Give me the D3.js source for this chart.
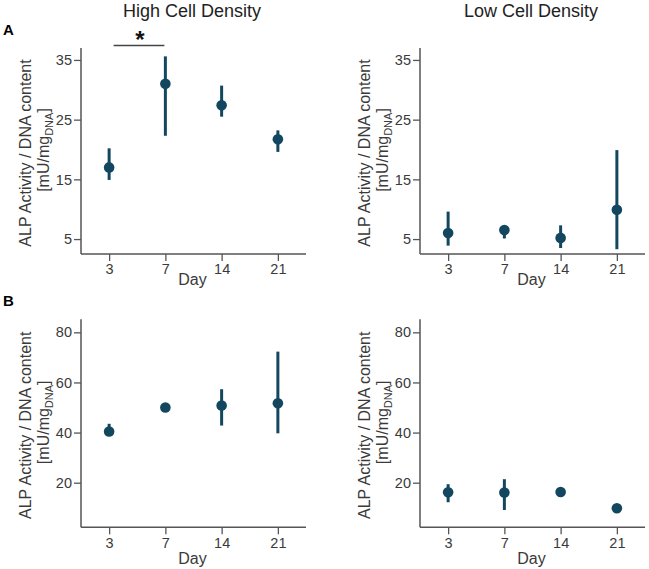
<!DOCTYPE html>
<html>
<head>
<meta charset="utf-8">
<script src="https://cdn.jsdelivr.net/npm/d3@7"></script>
<style>
  html, body { margin: 0; padding: 0; background: #fff; }
  svg { display: block; font-family: Arial, "Liberation Sans", Helvetica, sans-serif; }
</style>
</head>
<body>
<svg id="chart" width="649" height="569"></svg>
<script>
// ---- data ----
const days = ["3", "7", "14", "21"];
const columnTitles = ["High Cell Density", "Low Cell Density"];
const rowLabels = ["A", "B"];

// Row A (top): ALP activity / DNA content
const aHighMean = [17.0, 31.0, 27.4, 21.7];
const aHighLow  = [14.9, 22.3, 25.5, 19.6];
const aHighHigh = [20.2, 35.6, 30.7, 23.2];

const aLowMean = [6.0, 6.5, 5.2, 9.9];
const aLowLow  = [3.9, 5.1, 3.5, 3.3];
const aLowHigh = [9.6, 7.2, 7.3, 19.9];

// Row B (bottom)
const bHighMean = [40.4, 50.0, 50.8, 51.7];
const bHighLow  = [39.0, 49.0, 42.8, 39.7];
const bHighHigh = [43.5, 51.0, 57.3, 72.3];

const bLowMean = [16.2, 16.1, 16.3, 9.8];
const bLowLow  = [12.2, 9.1, 15.6, 9.1];
const bLowHigh = [19.4, 21.4, 17.0, 10.5];

const aTicks = [5, 15, 25, 35];
const bTicks = [20, 40, 60, 80];
const aDomain = [2.5, 37];
const bDomain = [2.2, 85.2];

// ---- layout ----
const svg = d3.select("#chart");
const dotColor = "#13475f";
const axisColor = "#555";
const textColor = "#3a3a3a";

const colX = [81, 420];
const plotW = 225;
const rows = [
  { top: 48, bottom: 254, domain: aDomain, ticks: aTicks, dayOffset: 31,
    series: [[aHighMean, aHighLow, aHighHigh], [aLowMean, aLowLow, aLowHigh]] },
  { top: 319.3, bottom: 527.3, domain: bDomain, ticks: bTicks, dayOffset: 37,
    series: [[bHighMean, bHighLow, bHighHigh], [bLowMean, bLowLow, bLowHigh]] }
];

rows.forEach((row, ri) => {
  const y = d3.scaleLinear().domain(row.domain).range([row.bottom, row.top]);
  [0, 1].forEach(ci => {
    const x0 = colX[ci];
    const x = d3.scalePoint().domain(days).range([x0, x0 + plotW]).padding(0.5);
    const g = svg.append("g");

    // y axis
    const ya = g.append("g").attr("transform", `translate(${x0},0)`)
      .call(d3.axisLeft(y).tickValues(row.ticks).tickSize(7).tickPadding(2).tickSizeOuter(0));
    ya.select(".domain").attr("stroke", axisColor).attr("stroke-width", 1.5)
      .attr("d", `M0,${row.top}V${row.bottom}`);
    ya.selectAll(".tick line").attr("stroke", axisColor).attr("stroke-width", 1.3);
    ya.selectAll(".tick text").attr("fill", textColor).style("font-size", "14.5px");

    // x axis
    const xa = g.append("g").attr("transform", `translate(0,${row.bottom})`)
      .call(d3.axisBottom(x).tickSize(7).tickPadding(3).tickSizeOuter(0));
    xa.select(".domain").attr("stroke", axisColor).attr("stroke-width", 1.5)
      .attr("d", `M${x0},0H${x0 + plotW}`);
    xa.selectAll(".tick line").attr("stroke", axisColor).attr("stroke-width", 1.3);
    xa.selectAll(".tick text").attr("fill", textColor).style("font-size", "14.5px");

    // x label
    g.append("text")
      .attr("x", x0 + plotW / 2 - 1)
      .attr("y", row.bottom + row.dayOffset)
      .attr("text-anchor", "middle")
      .attr("fill", textColor)
      .style("font-size", "16px")
      .text("Day");

    // y label (two lines, rotated)
    const cy = (row.top + row.bottom) / 2 + 2;
    const lab = g.append("text")
      .attr("transform", `translate(${x0 - 56},${cy}) rotate(-90)`)
      .attr("text-anchor", "middle")
      .attr("fill", textColor)
      .style("font-size", "16px");
    lab.append("tspan").attr("x", 0).attr("y", 0).attr("dy", "0.35em")
      .text("ALP Activity / DNA content");
    const l2 = g.append("text")
      .attr("transform", `translate(${x0 - 38},${cy - 3}) rotate(-90)`)
      .attr("text-anchor", "middle")
      .attr("fill", textColor)
      .style("font-size", "16px");
    l2.append("tspan").attr("dy", "0.35em").text("[mU/mg");
    l2.append("tspan").attr("dy", "4").style("font-size", "11px").text("DNA");
    l2.append("tspan").attr("dy", "-4").text("]");

    // data
    const [mean, lo, hi] = row.series[ci];
    const pts = days.map((d, i) => ({ d, m: mean[i], lo: lo[i], hi: hi[i] }));
    g.selectAll("line.err").data(pts).join("line")
      .attr("class", "err")
      .attr("x1", p => x(p.d)).attr("x2", p => x(p.d))
      .attr("y1", p => y(p.lo)).attr("y2", p => y(p.hi))
      .attr("stroke", dotColor).attr("stroke-width", 3);
    g.selectAll("circle.pt").data(pts).join("circle")
      .attr("class", "pt")
      .attr("cx", p => x(p.d)).attr("cy", p => y(p.m))
      .attr("r", 5.3)
      .attr("fill", dotColor);

    if (ri === 0) {
      // column title
      svg.append("text")
        .attr("x", x0 + plotW / 2 - 1.5)
        .attr("y", 16.5)
        .attr("text-anchor", "middle")
        .attr("fill", "#222")
        .style("font-size", "18px")
        .text(columnTitles[ci]);
    }
    if (ri === 0 && ci === 0) {
      // significance bracket between day 3 and day 7
      const sx1 = x("3") + 4.5, sx2 = x("7") - 1;
      g.append("line")
        .attr("x1", sx1).attr("x2", sx2).attr("y1", 45.5).attr("y2", 45.5)
        .attr("stroke", "#444").attr("stroke-width", 1.5);
      g.append("text")
        .attr("x", (sx1 + sx2) / 2 + 1)
        .attr("y", 48)
        .attr("text-anchor", "middle")
        .attr("fill", "#111")
        .style("font-size", "24px")
        .style("font-weight", "bold")
        .text("*");
    }
  });
  // row label
  svg.append("text")
    .attr("x", 3)
    .attr("y", ri === 0 ? 34.5 : 306)
    .attr("fill", "#000")
    .style("font-size", "15px")
    .style("font-weight", "bold")
    .text(rowLabels[ri]);
});
</script>
</body>
</html>
